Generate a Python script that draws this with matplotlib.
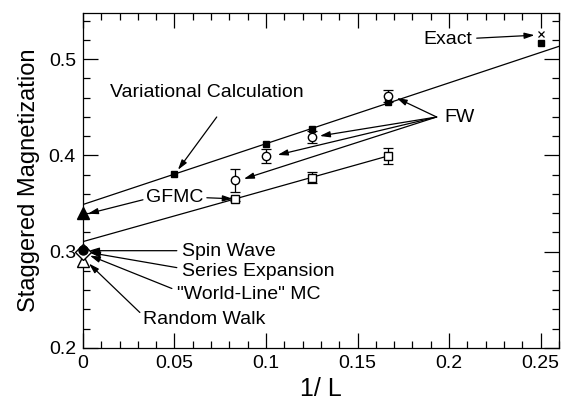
import numpy as np
import matplotlib.pyplot as plt
from matplotlib.ticker import MultipleLocator

plt.rcParams['font.family'] = ['Liberation Sans', 'DejaVu Sans']

# variational calculation (filled squares)
var_x = np.array([1/20, 1/10, 1/8, 1/6])
var_y = np.array([0.381, 0.412, 0.427, 0.455])

# FW (open circles with error bars)
fw_x = np.array([1/12, 1/10, 1/8, 1/6])
fw_y = np.array([0.374, 0.3995, 0.419, 0.462])
fw_err = np.array([0.012, 0.007, 0.006, 0.006])

# GFMC (open squares with error bars)
gf_x = np.array([1/12, 1/8, 1/6])
gf_y = np.array([0.355, 0.377, 0.3995])
gf_err = np.array([0.002, 0.006, 0.008])

# exact results at L = 4
exact_x = 0.25
exact_cross = 0.526
exact_square = 0.517

# extrapolated values at 1/L = 0
gfmc_inf = 0.340
spin_wave = 0.302
world_line = 0.300
random_walk = 0.290


def main():
    fig = plt.figure(figsize=(5.64, 4.05), dpi=100)
    ax = fig.add_axes([0.147, 0.141, 0.844, 0.827])

    # fit lines
    b_var = np.polyfit(var_x, var_y, 1)
    xs = np.array([0, 0.26])
    ax.plot(xs, np.polyval(b_var, xs), color='k', lw=0.9)
    b_gf = np.polyfit(gf_x, gf_y, 1)
    xs = np.array([0, 1/6])
    ax.plot(xs, np.polyval(b_gf, xs), color='k', lw=0.9)

    ax.plot(var_x, var_y, 's', color='k', ms=5)
    ax.errorbar(fw_x, fw_y, yerr=fw_err, fmt='o', mfc='white', mec='k',
                ms=6, ecolor='k', elinewidth=0.9, capsize=3.5, capthick=0.9)
    ax.errorbar(gf_x, gf_y, yerr=gf_err, fmt='s', mfc='white', mec='k',
                ms=5.5, ecolor='k', elinewidth=0.9, capsize=3.5, capthick=0.9)
    ax.plot(exact_x, exact_square, 's', color='k', ms=5)
    ax.plot(exact_x, exact_cross, 'x', color='k', ms=4, mew=0.9)

    ax.plot(0, gfmc_inf, '^', color='k', ms=8, clip_on=False, zorder=5)
    ax.plot(0, world_line, 'D', mfc='white', mec='k', ms=8, clip_on=False, zorder=5)
    ax.plot(0, spin_wave, 'o', color='k', ms=6.5, clip_on=False, zorder=6)
    ax.plot(0, random_walk, '^', mfc='white', mec='k', ms=8, clip_on=False, zorder=4)

    fs = 14
    ax.text(0.2129, 0.5207, 'Exact', fontsize=fs, ha='right', va='center')
    ax.text(0.0147, 0.4658, 'Variational Calculation', fontsize=fs, va='center')
    ax.text(0.1976, 0.4399, 'FW', fontsize=fs, va='center')
    ax.text(0.0344, 0.356, 'GFMC', fontsize=fs, va='center')
    ax.text(0.054, 0.300, 'Spin Wave', fontsize=fs, va='center')
    ax.text(0.054, 0.2793, 'Series Expansion', fontsize=fs, va='center')
    ax.text(0.0513, 0.2554, '"World-Line" MC', fontsize=fs, va='center')
    ax.text(0.0328, 0.2295, 'Random Walk', fontsize=fs, va='center')

    arrows = [
        ((0.2151, 0.5218), (0.2467, 0.5249)),
        ((0.0731, 0.4399), (0.0519, 0.385)),
        ((0.1932, 0.4399), (0.1714, 0.4596)),
        ((0.1932, 0.4399), (0.1294, 0.4202)),
        ((0.1932, 0.4399), (0.1064, 0.4005)),
        ((0.1932, 0.4399), (0.0879, 0.3756)),
        ((0.0677, 0.356), (0.0819, 0.3549)),
        ((0.0328, 0.3539), (0.0027, 0.3394)),
        ((0.0513, 0.301), (0.0033, 0.301)),
        ((0.0513, 0.2834), (0.0038, 0.299)),
        ((0.0486, 0.2617), (0.0038, 0.2959)),
        ((0.0311, 0.2368), (0.0033, 0.2876)),
    ]
    for start, end in arrows:
        ax.annotate('', xy=end, xytext=start,
                    arrowprops=dict(arrowstyle='-|>,head_length=0.6,head_width=0.18',
                                    color='k', lw=0.9, shrinkA=0, shrinkB=0))

    ax.set_xlim(0, 0.26)
    ax.set_ylim(0.2, 0.548)
    ax.set_xticks([0, 0.05, 0.1, 0.15, 0.2, 0.25])
    ax.set_xticklabels(['0', '0.05', '0.1', '0.15', '0.2', '0.25'])
    ax.set_yticks([0.2, 0.3, 0.4, 0.5])
    ax.set_yticklabels(['0.2', '0.3', '0.4', '0.5'])
    ax.xaxis.set_minor_locator(MultipleLocator(0.01))
    ax.yaxis.set_minor_locator(MultipleLocator(0.02))
    ax.tick_params(which='both', direction='in', top=True, right=True,
                   labelsize=14, width=0.9, pad=5)
    ax.tick_params(which='major', length=11)
    ax.tick_params(which='minor', length=5)
    for s in ax.spines.values():
        s.set_linewidth(0.9)

    ax.set_xlabel('1/ L', fontsize=18, labelpad=4)
    ax.set_ylabel('Staggered Magnetization', fontsize=17, labelpad=6)

    fig.savefig('out.png', dpi=100)


if __name__ == '__main__':
    main()
